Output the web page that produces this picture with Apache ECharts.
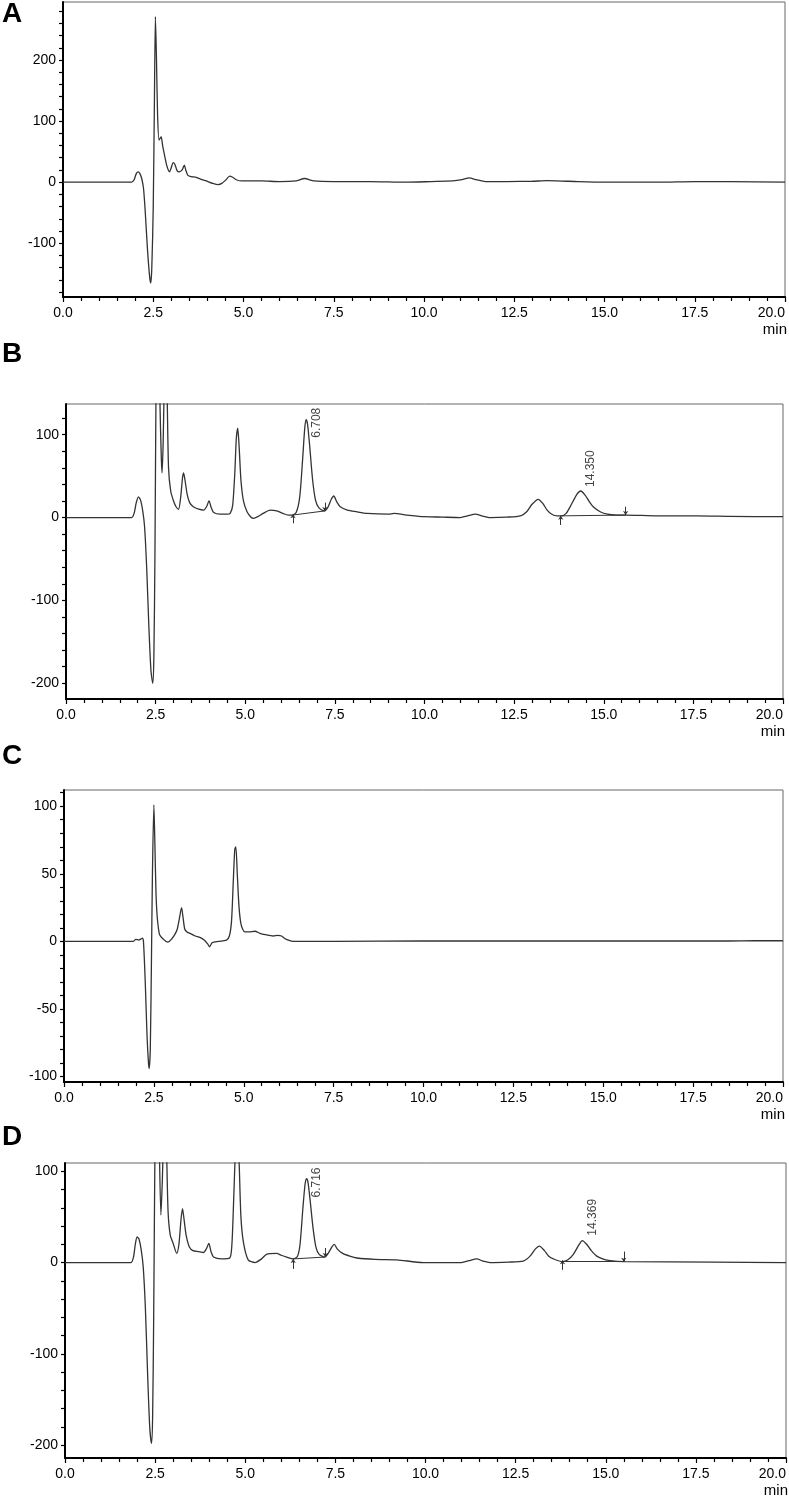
<!DOCTYPE html>
<html>
<head>
<meta charset="utf-8">
<script src="https://cdn.jsdelivr.net/npm/echarts@6/dist/echarts.min.js"></script>
<style>
  html, body { margin: 0; padding: 0; background: #fff; }
  #main { width: 789px; height: 1499px; }
</style>
</head>
<body>
<div id="main"></div>
<script>
// chromatogram traces: [time (min), signal]
const traceA = [
  [0, 0], [1.0, 0], [1.9, 0], [1.97, 4], [2.03, 14], [2.08, 17], [2.13, 14], [2.18, 6],
  [2.23, -10], [2.28, -50], [2.34, -110], [2.40, -155], [2.43, -165], [2.46, -140], [2.50, -40],
  [2.53, 120], [2.56, 271], [2.59, 200], [2.62, 110], [2.66, 69], [2.69, 72], [2.72, 74],
  [2.76, 60], [2.82, 42], [2.88, 26], [2.95, 17], [3.00, 24], [3.05, 32], [3.10, 29], [3.16, 19],
  [3.22, 17], [3.30, 20], [3.36, 28], [3.40, 20], [3.46, 11], [3.55, 9], [3.69, 8], [3.85, 4],
  [3.97, 2], [4.15, -2], [4.30, -4], [4.40, -2], [4.50, 3], [4.62, 10], [4.70, 8], [4.80, 4],
  [4.95, 2], [5.5, 2], [6.0, 1], [6.45, 2], [6.69, 6], [6.95, 2], [7.5, 1], [8.5, 1], [9.5, 0],
  [10.2, 1], [10.8, 2], [11.05, 4], [11.25, 7], [11.45, 4], [11.7, 1], [12.3, 1], [13.0, 1.5],
  [13.4, 2.5], [14.0, 1.5], [15.0, 0], [16.5, 0], [17.5, 1], [18.5, 1], [20.0, 0]
];

const traceB = [
  [0, 0], [1.0, 0], [1.83, 0], [1.90, 5], [1.96, 18], [2.02, 25], [2.08, 21], [2.14, 8],
  [2.19, -10], [2.25, -60], [2.31, -130], [2.37, -185], [2.42, -200], [2.45, -170], [2.48, -50],
  [2.51, 150], [2.55, 330], [2.58, 300], [2.62, 140], [2.66, 70], [2.68, 54], [2.71, 90],
  [2.74, 160], [2.78, 210], [2.82, 150], [2.86, 60], [2.92, 32], [3.0, 20], [3.07, 13], [3.14, 10],
  [3.20, 25], [3.25, 48], [3.28, 54], [3.32, 45], [3.38, 28], [3.45, 18], [3.55, 13], [3.70, 10],
  [3.84, 9], [3.92, 13], [3.99, 20], [4.05, 12], [4.12, 6], [4.3, 4], [4.5, 4], [4.58, 5],
  [4.65, 15], [4.71, 55], [4.75, 95], [4.79, 108], [4.83, 85], [4.88, 45], [4.95, 20], [5.05, 7],
  [5.15, 1], [5.23, -1], [5.35, 1], [5.5, 5], [5.7, 9], [5.88, 8], [6.05, 5], [6.2, 3], [6.3, 3],
  [6.42, 6], [6.52, 25], [6.60, 70], [6.66, 108], [6.70, 118], [6.74, 112], [6.80, 85], [6.88, 45],
  [6.96, 21], [7.05, 12], [7.20, 8], [7.30, 12], [7.40, 22], [7.47, 26], [7.55, 19], [7.65, 13],
  [7.85, 9], [8.1, 7], [8.4, 5], [9.0, 4], [9.15, 5], [9.5, 3], [10.0, 1], [10.5, 0.5], [11.0, 0],
  [11.2, 2], [11.42, 4], [11.6, 2], [11.84, 0], [12.3, 0.5], [12.68, 2], [12.85, 7], [13.0, 16],
  [13.17, 22], [13.3, 17], [13.42, 9], [13.55, 4], [13.7, 2], [13.82, 2], [13.95, 5], [14.1, 16],
  [14.25, 28], [14.36, 32], [14.48, 27], [14.6, 19], [14.73, 12], [14.9, 7], [15.1, 4], [15.35, 3],
  [15.61, 3], [16.5, 2], [17.6, 2], [18.5, 1.5], [19.9, 1], [20, 1]
];

const traceC = [
  [0, 0], [1.0, 0], [1.92, 0], [2.0, 1.5], [2.08, 1], [2.15, 2], [2.18, 2.5], [2.21, 0],
  [2.26, -30], [2.31, -70], [2.35, -90], [2.37, -94], [2.40, -80], [2.43, -20], [2.46, 50],
  [2.50, 101], [2.53, 70], [2.56, 35], [2.59, 19], [2.63, 9], [2.66, 5], [2.75, 2], [2.89, -0.5],
  [3.0, 2], [3.08, 5], [3.15, 9], [3.21, 17], [3.27, 25], [3.31, 18], [3.36, 9], [3.42, 7],
  [3.5, 6], [3.65, 4], [3.78, 3], [3.9, 1], [4.0, -2], [4.05, -4], [4.12, -1], [4.3, 0],
  [4.52, 1], [4.6, 4], [4.66, 15], [4.71, 45], [4.75, 68], [4.78, 70], [4.82, 50], [4.87, 25],
  [4.93, 12], [5.03, 7], [5.15, 7], [5.31, 7.5], [5.45, 6], [5.6, 5], [5.82, 4], [5.95, 4.5],
  [6.05, 4], [6.15, 2], [6.24, 1], [6.37, 0], [7.5, 0], [10, 0.3], [15, 0.3], [18.5, 0.3],
  [19.2, 0.5], [20, 0.5]
];

const traceD = [
  [0, 0], [1.0, 0], [1.83, 0], [1.90, 6], [1.95, 20], [2.0, 28], [2.05, 26], [2.11, 15],
  [2.17, -5], [2.23, -50], [2.29, -120], [2.35, -180], [2.40, -198], [2.43, -170], [2.46, -60],
  [2.50, 150], [2.55, 320], [2.58, 250], [2.62, 120], [2.66, 52], [2.70, 90], [2.74, 150],
  [2.78, 190], [2.82, 120], [2.86, 55], [2.92, 30], [3.0, 21], [3.1, 10], [3.16, 20], [3.22, 48],
  [3.26, 59], [3.30, 48], [3.36, 30], [3.45, 17], [3.55, 13], [3.70, 12], [3.84, 11], [3.92, 15],
  [3.99, 21], [4.05, 12], [4.12, 6], [4.34, 4], [4.57, 5], [4.63, 20], [4.68, 70], [4.73, 125],
  [4.78, 150], [4.83, 110], [4.88, 50], [4.95, 22], [5.08, 3], [5.27, 0], [5.45, 4], [5.59, 9],
  [5.87, 10], [6.0, 8], [6.15, 6], [6.33, 4], [6.45, 7], [6.52, 20], [6.6, 60], [6.66, 86],
  [6.70, 92], [6.74, 88], [6.80, 68], [6.88, 38], [6.96, 17], [7.05, 9], [7.21, 6], [7.3, 10],
  [7.4, 17], [7.47, 20], [7.55, 15], [7.7, 10], [7.9, 7], [8.1, 5], [8.6, 3.5], [9.2, 3],
  [9.94, 0], [10.5, 0], [10.96, 0], [11.2, 2], [11.42, 4], [11.6, 1.5], [11.79, 0], [12.3, 0.5],
  [12.71, 1.5], [12.9, 7], [13.05, 15], [13.16, 18], [13.3, 13], [13.42, 7], [13.55, 4], [13.8, 1],
  [13.95, 3], [14.1, 9], [14.25, 19], [14.35, 24], [14.47, 20], [14.6, 13], [14.75, 7], [14.95, 3.5],
  [15.12, 2], [15.5, 1], [18.0, 0.5], [20, 0]
];

// y axis ranges and labels
const yRangeA = [-188, 295];
const yRangeB = [-219, 137];
const yRangeC = [-104, 112];
const yRangeD = [-214, 109];
const yLabelsA = [-100, 0, 100, 200];
const yLabelsB = [-200, -100, 0, 100];
const yLabelsC = [-100, -50, 0, 50, 100];
const yLabelsD = [-200, -100, 0, 100];

// labelled peaks (retention time, apex)
const peaksB = [[6.708, 118], [14.350, 32]];
const peaksD = [[6.716, 92], [14.369, 24]];

// integration baselines and their start/end marks [time, from, to]
const baselinesB = [[[6.33, 3], [7.22, 8]], [[13.8, 2], [15.62, 3]]];
const marksB = [[6.33, -7, 4], [7.22, 18, 8], [13.8, -9, 2], [15.61, 13, 3]];
const baselinesD = [[[6.33, 4], [7.21, 6]], [[13.8, 1], [15.5, 1]]];
const marksD = [[6.33, -7, 4], [7.22, 16, 6], [13.8, -8, 2.5], [15.5, 12, 1]];

const FONT = 'Liberation Sans, Arial, sans-serif';

const panels = [
  { name: 'A', trace: traceA, range: yRangeA, labels: yLabelsA, step: 20,
    grid: { left: 63, top: 2, width: 722, height: 295 }, letterTop: 0 },
  { name: 'B', trace: traceB, range: yRangeB, labels: yLabelsB, step: 20,
    grid: { left: 66, top: 404, width: 717, height: 295 }, letterTop: 340,
    peaks: peaksB, labelOffsets: [[-18, 10.5], [4, 10.5]], baselines: baselinesB, marks: marksB },
  { name: 'C', trace: traceC, range: yRangeC, labels: yLabelsC, step: 10,
    grid: { left: 64, top: 790, width: 719, height: 292 }, letterTop: 742 },
  { name: 'D', trace: traceD, range: yRangeD, labels: yLabelsD, step: 20,
    grid: { left: 65, top: 1163, width: 721, height: 295 }, letterTop: 1123,
    peaks: peaksD, labelOffsets: [[-19, 10], [5, 10]], baselines: baselinesD, marks: marksD }
];

function tickValues(range, step) {
  let out = [];
  for (let v = Math.ceil(range[0] / step) * step; v <= range[1]; v += step) out.push(v);
  return out;
}

let chart = echarts.init(document.getElementById('main'), null, { renderer: 'canvas' });

let option = {
  animation: false,
  backgroundColor: '#fff',
  title: [],
  grid: [],
  xAxis: [],
  yAxis: [],
  series: []
};

panels.forEach((p, i) => {
  option.title.push({
    text: p.name, left: 2, top: p.letterTop, padding: 0,
    textStyle: { fontSize: 28, fontWeight: 'bold', color: '#000', fontFamily: FONT }
  });
  option.grid.push(Object.assign({
    show: true, borderColor: '#666', borderWidth: 1,
    containLabel: false, outerBoundsMode: 'none'
  }, p.grid));
  option.xAxis.push({
    type: 'value', gridIndex: i, min: 0, max: 20, interval: 2.5,
    axisLine: { onZero: false, lineStyle: { color: '#000', width: 2 } },
    axisTick: { show: true, length: 5, lineStyle: { color: '#000', width: 1.2 } },
    minorTick: { show: true, splitNumber: 5, length: 4, lineStyle: { color: '#000', width: 1.2 } },
    splitLine: { show: false },
    axisLabel: {
      margin: 9, fontSize: 14, color: '#000', fontFamily: FONT, alignMaxLabel: 'right',
      formatter: v => v.toFixed(1)
    },
    name: 'min', nameLocation: 'end', nameGap: 2,
    nameTextStyle: { fontSize: 15, color: '#000', fontFamily: FONT, align: 'right', verticalAlign: 'top', padding: [25, 0, 0, 0] }
  });
  option.yAxis.push({
    type: 'value', gridIndex: i, min: p.range[0], max: p.range[1],
    axisLine: { show: true, onZero: false, lineStyle: { color: '#000', width: 2 } },
    axisTick: { show: true, length: 4, customValues: tickValues(p.range, p.step), lineStyle: { color: '#000', width: 1.2 } },
    splitLine: { show: false },
    axisLabel: { margin: 7, fontSize: 14, color: '#000', fontFamily: FONT, customValues: p.labels }
  });

  let marks = [];
  (p.baselines || []).forEach(seg => {
    marks.push([{ coord: seg[0] }, { coord: seg[1] }]);
  });
  (p.marks || []).forEach(m => {
    marks.push([{ coord: [m[0], m[1]], symbol: 'none' }, { coord: [m[0], m[2]], symbol: 'arrow', symbolSize: 4 }]);
  });

  option.series.push({
    type: 'line', xAxisIndex: i, yAxisIndex: i,
    data: p.trace, showSymbol: false, symbol: 'none', smooth: 0.25, clip: true,
    lineStyle: { color: '#333', width: 1.3 },
    silent: true,
    markLine: marks.length ? {
      silent: true, symbol: 'none', label: { show: false },
      lineStyle: { color: '#333', width: 1, type: 'solid' },
      data: marks
    } : undefined
  });

  if (p.peaks) {
    option.series.push({
      type: 'scatter', xAxisIndex: i, yAxisIndex: i, symbolSize: 1,
      itemStyle: { color: 'rgba(0,0,0,0)' },
      data: p.peaks.map((pk, k) => ({ value: pk, label: { offset: p.labelOffsets[k] } })),
      label: {
        show: true, position: 'inside', rotate: 90, align: 'left', verticalAlign: 'middle',
        fontSize: 12, color: '#111', fontFamily: FONT,
        formatter: d => d.value[0].toFixed(3)
      }
    });
  }
});

option && chart.setOption(option);
</script>
</body>
</html>
